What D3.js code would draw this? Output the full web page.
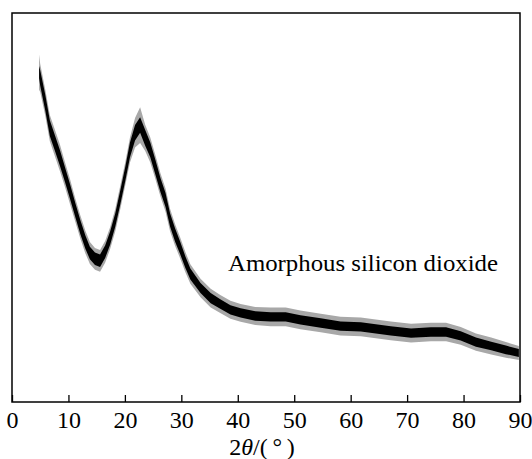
<!DOCTYPE html>
<html><head><meta charset="utf-8">
<script src="https://cdn.jsdelivr.net/npm/d3@7"></script>
<style>body{margin:0;background:#fff}svg{display:block}</style>
</head><body>
<svg id="c" width="532" height="459"></svg>
<script>
// 2θ (degrees) and intensity (a.u.)
const twoTheta = [4.8,5.0,5.9,6.7,7.6,8.5,9.4,10.3,11.2,12.1,13.0,13.8,14.7,15.6,16.5,17.4,18.3,19.2,20.1,20.9,21.8,22.7,23.6,24.5,25.4,26.3,27.2,28.0,28.9,29.8,30.7,31.6,33.4,35.2,36.9,38.7,40.5,43.1,45.8,48.5,51.1,54.7,58.2,61.8,67.1,70.7,74.2,76.9,79.5,82.2,84.9,87.5,89.8];
const intensity = [848,833,769,704,666,627,584,540,494,450,411,383,368,363,386,422,468,527,589,648,692,712,679,648,604,558,519,468,429,396,360,329,293,267,252,237,229,221,219,219,211,203,195,193,183,177,180,180,170,154,144,134,126];
// half width of the dense noise band and of the sparse noise spikes (a.u.)
const noiseBand = [16,20,20,20,20,20,19,19,18,18,17,16,16,16,16,17,17,18,18,19,20,20,20,19,19,18,18,17,17,16,15,14,13,13,12,12,12,12,12,12,12,12,12,12,12,12,12,12,12,12,11,11,10];
const noiseSpike = [45,36,34,34,34,34,32,32,30,30,29,28,28,28,28,28,29,30,30,32,38,46,34,32,31,30,30,29,28,27,26,25,24,24,23,23,23,23,24,24,24,24,24,24,24,24,24,24,23,22,22,20,18];
const xTicks = [0,10,20,30,40,50,60,70,80,90];
const label = "Amorphous silicon dioxide";

const svg = d3.select("#c");
const L = 12, R = 520, T = 13, B = 402;
const serif = "'Liberation Serif', 'Times New Roman', serif";
const x = d3.scaleLinear().domain([0, 90]).range([L, R]);
const y = d3.scaleLinear().domain([0, 1000]).range([B, T]);
const data = twoTheta.map((t, i) => ({t, v: intensity[i], n: noiseBand[i], s: noiseSpike[i]}));

svg.append("clipPath").attr("id", "pc").append("rect")
  .attr("x", L).attr("y", T).attr("width", R - L).attr("height", B - T);
const g = svg.append("g").attr("clip-path", "url(#pc)");

g.append("path").datum(data)
  .attr("d", d3.area().x(d => x(d.t)).y0(d => y(d.v - d.s)).y1(d => y(d.v + d.s)))
  .attr("fill", "#a8a8a8");
g.append("path").datum(data)
  .attr("d", d3.area().x(d => x(d.t)).y0(d => y(d.v - d.n)).y1(d => y(d.v + d.n)))
  .attr("fill", "#000");

// frame
svg.append("rect").attr("x", L).attr("y", T).attr("width", R - L).attr("height", B - T)
  .attr("fill", "none").attr("stroke", "#000").attr("stroke-width", 1.5);

const ax = svg.append("g").attr("transform", `translate(0,${B})`)
  .call(d3.axisBottom(x).tickValues(xTicks).tickSizeInner(-7).tickSizeOuter(0).tickPadding(9).tickFormat(d3.format("d")));
ax.select(".domain").remove();
ax.selectAll("line").attr("stroke", "#000").attr("stroke-width", 1.3);
ax.selectAll("text").style("font-family", serif).style("font-size", "24px").attr("fill", "#000");

const title = svg.append("text").attr("x", 262).attr("y", 455).attr("text-anchor", "middle")
  .style("font-family", serif).style("font-size", "24px").attr("fill", "#000");
title.append("tspan").text("2");
title.append("tspan").style("font-style", "italic").text("θ");
title.append("tspan").text("/(\u2009°\u2009)");

svg.append("text").attr("x", 228).attr("y", 271)
  .style("font-family", serif).style("font-size", "24px").attr("fill", "#000")
  .attr("textLength", 270).attr("lengthAdjust", "spacingAndGlyphs")
  .text(label);
</script>
</body></html>
